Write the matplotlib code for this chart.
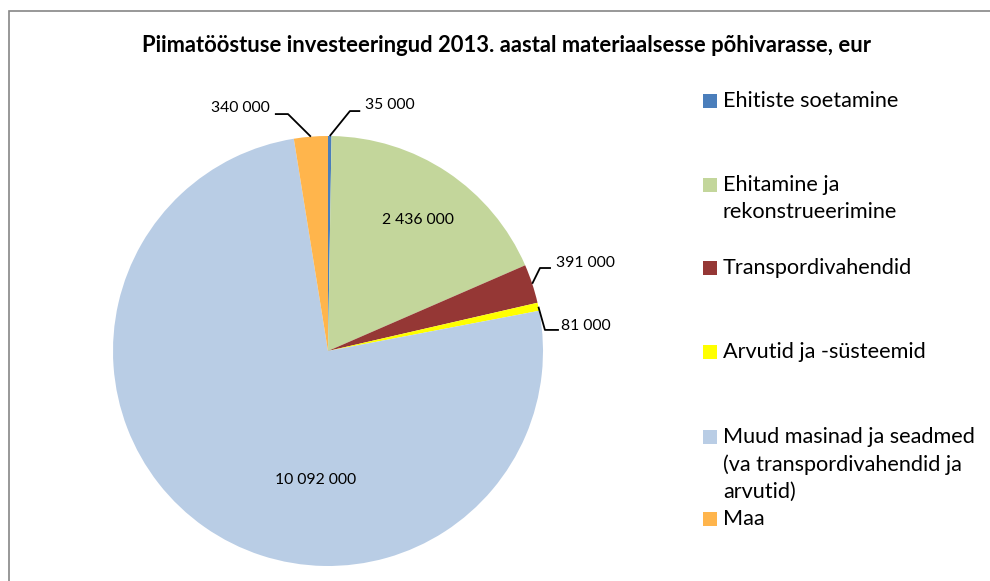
import numpy as np
import matplotlib.pyplot as plt
from matplotlib.patches import Rectangle

plt.rcParams['font.family'] = ['Lato', 'DejaVu Sans']

# --- data
categories = ['Ehitiste soetamine',
              'Ehitamine ja\nrekonstrueerimine',
              'Transpordivahendid',
              'Arvutid ja -süsteemid',
              'Muud masinad ja seadmed\n(va transpordivahendid ja\narvutid)',
              'Maa']
values = [35000, 2436000, 391000, 81000, 10092000, 340000]
value_labels = ['35 000', '2 436 000', '391 000', '81 000', '10 092 000', '340 000']
colors = ['#4a7ebb', '#c3d69b', '#953735', '#ffff00', '#b9cde5', '#ffb54c']
title = 'Piimatööstuse investeeringud 2013. aastal materiaalsesse põhivarasse, eur'

W, H = 990, 581
fig = plt.figure(figsize=(W / 100, H / 100), dpi=100)

# pie box in pixels: centre (328, 351), radius 215
cx, cy, R = 328, 351, 215
ax = fig.add_axes([(cx - R) / W, (H - cy - R) / H, 2 * R / W, 2 * R / H])
wedges, _ = ax.pie(values, colors=colors, startangle=90, counterclock=False,
                   radius=1, wedgeprops=dict(linewidth=0))
ax.set_xlim(-1, 1); ax.set_ylim(-1, 1)
ax.axis('off')

# label layout: (text x, text y, ha, elbow point or None) in pie-radius units
label_layout = [
    (0.17, 1.145, 'left', [(0.102, 1.116), (0.150, 1.116)]),
    (0.42, 0.61, 'center', None),
    (1.06, 0.41, 'left', [(0.986, 0.386), (1.037, 0.386)]),
    (1.085, 0.117, 'left', [(1.009, 0.098), (1.074, 0.098)]),
    (-0.06, -0.60, 'center', None),
    (-0.27, 1.13, 'right', [(-0.186, 1.102), (-0.247, 1.102)]),
]
for w, lab, (tx, ty, ha, elbow) in zip(wedges, value_labels, label_layout):
    if elbow is not None:
        mid = np.deg2rad((w.theta1 + w.theta2) / 2)
        xs = [np.cos(mid)] + [p[0] for p in elbow]
        ys = [np.sin(mid)] + [p[1] for p in elbow]
        ax.plot(xs, ys, color='black', lw=1.3, clip_on=False,
                solid_capstyle='butt')
    ax.text(tx, ty, lab, ha=ha, va='center', fontsize=11.3, color='black')

fig.text(507 / W, 1 - 46 / H, title, ha='center', va='center',
         fontsize=15.8, fontweight='bold')

# legend, placed like the original
legend_y = [101, 185, 268, 352, 437, 519]
line_h = 27.5
for lab, col, y in zip(categories, colors, legend_y):
    fig.add_artist(Rectangle((703 / W, 1 - (y + 7) / H), 14 / W, 14 / H,
                             transform=fig.transFigure, color=col, lw=0))
    for i, line in enumerate(lab.split('\n')):
        fig.text(723 / W, 1 - (y + i * line_h) / H, line, ha='left',
                 va='center', fontsize=15.6)

# chart border (cropped on the right and bottom)
fig.add_artist(Rectangle((9 / W, -0.5), 1.5, 1.5 - 11 / H, fill=False,
                         transform=fig.transFigure, edgecolor='#868686', lw=1.2))

fig.savefig('out.png', dpi=100)
